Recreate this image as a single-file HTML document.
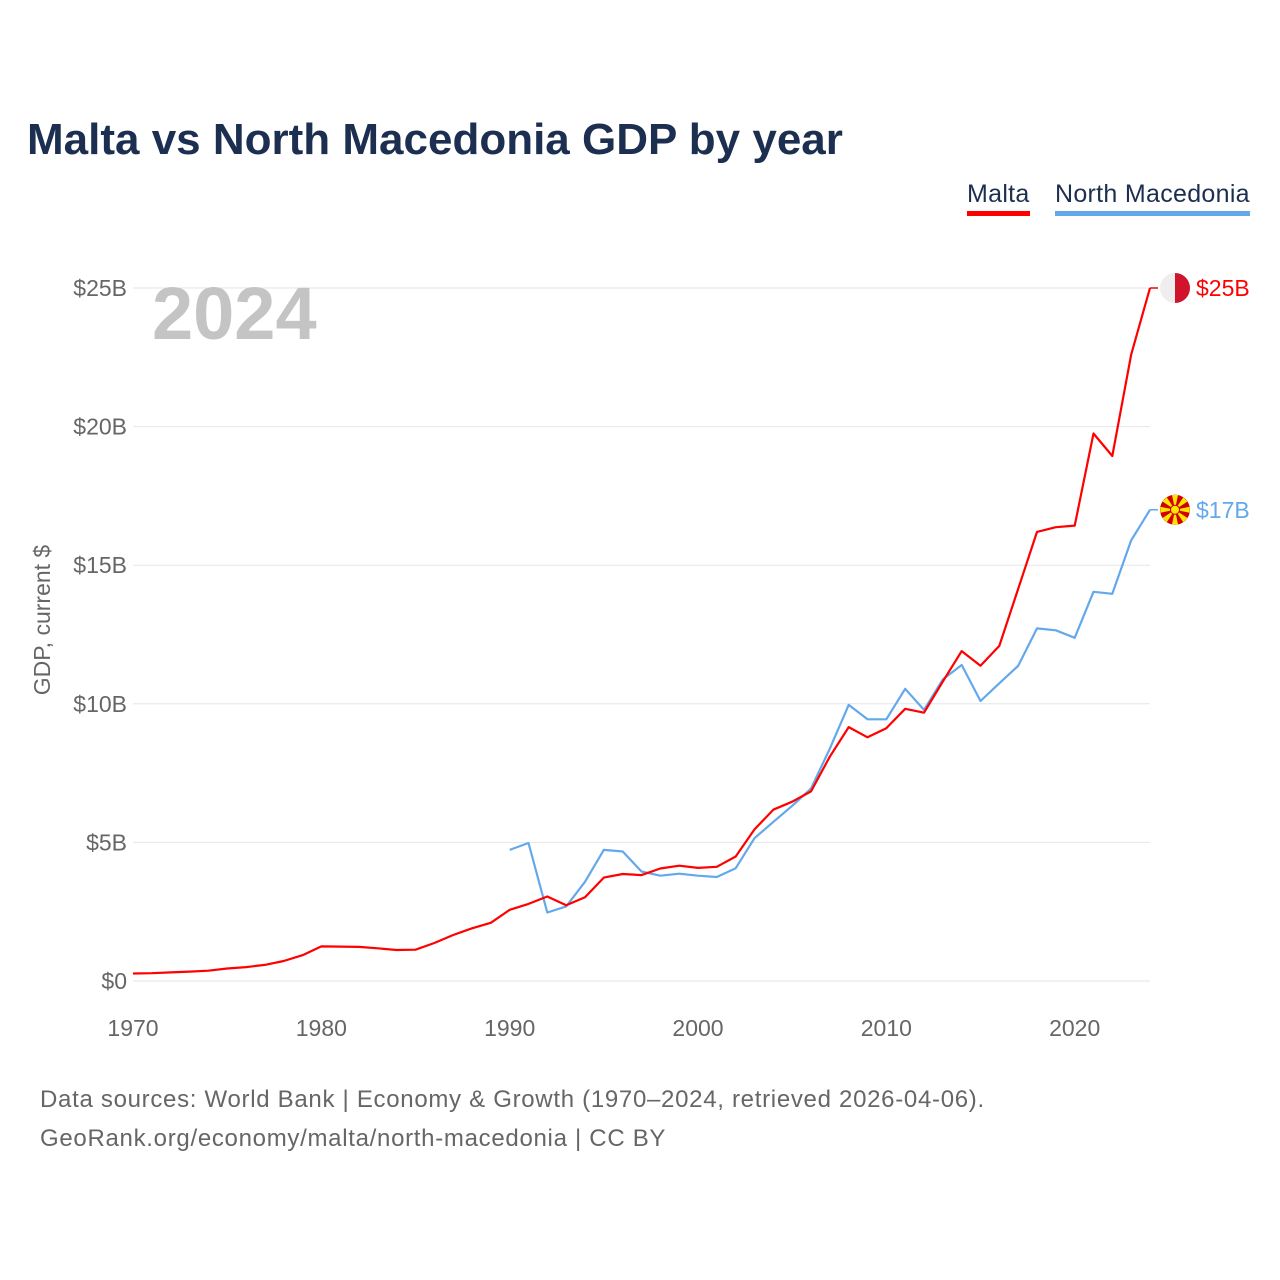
<!DOCTYPE html>
<html><head><meta charset="utf-8">
<style>
html,body{margin:0;padding:0;background:#fff;}
body{width:1280px;height:1280px;position:relative;font-family:"Liberation Sans",sans-serif;overflow:hidden;}
#title{position:absolute;left:27px;top:115px;font-size:44px;font-weight:bold;color:#1c2f50;letter-spacing:0px;margin:0;}
.leg{position:absolute;top:180px;font-size:25px;color:#1c2f50;padding-bottom:2px;letter-spacing:0.3px;}
.foot{position:absolute;left:40px;font-size:24px;color:#666;letter-spacing:0.7px;}
</style></head><body>
<h1 id="title">Malta vs North Macedonia GDP by year</h1>
<div class="leg" style="left:967px;border-bottom:5px solid #ff0000;">Malta</div>
<div class="leg" style="left:1055px;border-bottom:5px solid #64a8ec;">North Macedonia</div>
<svg id="chart" width="1280" height="1280" style="position:absolute;left:0;top:0"></svg>
<div class="foot" style="top:1086px">Data sources: World Bank | Economy &amp; Growth (1970–2024, retrieved 2026-04-06).</div>
<div class="foot" style="top:1125px">GeoRank.org/economy/malta/north-macedonia | CC BY</div>
<script>
const years = [];
for (let y = 1970; y <= 2024; y++) years.push(y);
const maltaGdp = [0.27,0.28,0.31,0.34,0.37,0.45,0.5,0.58,0.72,0.93,1.25,1.24,1.23,1.18,1.12,1.13,1.37,1.66,1.9,2.1,2.57,2.78,3.05,2.73,3.02,3.73,3.86,3.82,4.06,4.16,4.08,4.12,4.49,5.47,6.18,6.47,6.84,8.09,9.16,8.79,9.12,9.82,9.68,10.8,11.9,11.37,12.09,14.15,16.2,16.37,16.43,19.75,18.94,22.6,25.0];
const macYears = [];
for (let y = 1990; y <= 2024; y++) macYears.push(y);
const macGdp = [4.73,4.98,2.47,2.69,3.58,4.73,4.67,3.95,3.8,3.87,3.8,3.75,4.07,5.15,5.74,6.32,6.94,8.38,9.96,9.44,9.44,10.54,9.78,10.88,11.4,10.1,10.74,11.37,12.72,12.65,12.38,14.04,13.97,15.9,17.0];
const yTicks = [0,5,10,15,20,25];
const yTickLabels = ["$0","$5B","$10B","$15B","$20B","$25B"];
const xTicks = [1970,1980,1990,2000,2010,2020];

const NS = "http://www.w3.org/2000/svg";
const svg = document.getElementById('chart');
const x = v => 133 + (v - 1970) * (1150 - 133) / 54;
const y = v => 981 - v * (981 - 288) / 25;
function el(tag, attrs, txt) {
  const e = document.createElementNS(NS, tag);
  for (const k in attrs) e.setAttribute(k, attrs[k]);
  if (txt !== undefined) e.textContent = txt;
  svg.appendChild(e);
  return e;
}
yTicks.forEach((t, i) => {
  const g = el('line', {x1:133, x2:1150, y1:y(t), y2:y(t), stroke:'#e6e6e6', 'stroke-width':1});
  
  
  const l = el('text', {x:127, y:y(t)+8, 'text-anchor':'end', 'font-size':23, fill:'#666', 'font-family':'Liberation Sans, sans-serif'}, yTickLabels[i]);
  
  
});
xTicks.forEach(t => {
  const l = el('text', {x:x(t), y:1036, 'text-anchor':'middle', 'font-size':23, fill:'#666', 'font-family':'Liberation Sans, sans-serif'}, String(t));
  
  
});
const yt = el('text', {x:0, y:0, transform:'translate(50,620) rotate(-90)', 'text-anchor':'middle', 'font-size':23, fill:'#666', 'font-family':'Liberation Sans, sans-serif'}, 'GDP, current $');


const yr = el('text', {x:152, y:339, 'font-size':74, 'font-weight':'bold', fill:'#c4c4c4', 'font-family':'Liberation Sans, sans-serif'}, '2024');



function line(xs, vs, color, name) {
  const d = vs.map((v, i) => (i ? 'L' : 'M') + x(xs[i]).toFixed(1) + ',' + y(v).toFixed(1)).join('');
  const p = el('path', {d:d, fill:'none', stroke:color, 'stroke-width':2.2, 'stroke-linejoin':'round'});
  
  
}
line(macYears, macGdp, '#64a8ec', 'series-north-macedonia');
line(years, maltaGdp, '#ff0000', 'series-malta');

const mEnd = maltaGdp[maltaGdp.length-1], nEnd = macGdp[macGdp.length-1];
el('line', {x1:x(2024), x2:x(2024)+8, y1:y(mEnd), y2:y(mEnd), stroke:'#ff0000', 'stroke-width':1.5});
el('line', {x1:x(2024), x2:x(2024)+8, y1:y(nEnd), y2:y(nEnd), stroke:'#64a8ec', 'stroke-width':1.5});
const mf = el('g', {});


el('circle', {cx:1175, cy:y(mEnd), r:15, fill:'#eeeeee'});
el('path', {d:`M1175,${y(mEnd)-15} A15,15 0 0 1 1175,${y(mEnd)+15} Z`, fill:'#cf142b'});
const ml = el('text', {x:1196, y:y(mEnd)+8, 'font-size':23, fill:'#ff0000', 'font-family':'Liberation Sans, sans-serif'}, '$' + Math.round(mEnd) + 'B');


const cy = y(nEnd);
el('circle', {cx:1175, cy:cy, r:15, fill:'#d20000'});
for (let k = 0; k < 8; k++) {
  const a = k * Math.PI / 4;
  const a1 = a - 0.2, a2 = a + 0.2;
  el('path', {d:`M1175,${cy} L${1175+15*Math.cos(a1)},${cy+15*Math.sin(a1)} L${1175+15*Math.cos(a2)},${cy+15*Math.sin(a2)} Z`, fill:'#ffe600'});
}
el('circle', {cx:1175, cy:cy, r:4.5, fill:'#ffe600', stroke:'#d20000', 'stroke-width':1});
const nl = el('text', {x:1196, y:cy+8, 'font-size':23, fill:'#64a8ec', 'font-family':'Liberation Sans, sans-serif'}, '$' + Math.round(nEnd) + 'B');


</script>
</body></html>
